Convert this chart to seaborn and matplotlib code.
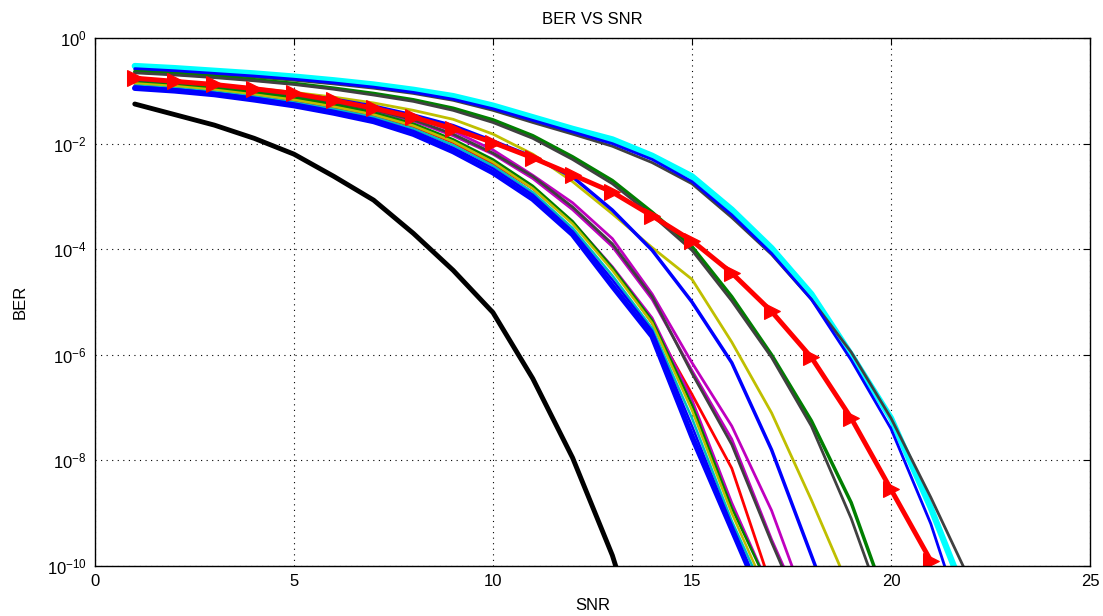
import numpy as np
import matplotlib
matplotlib.use("Agg")
import matplotlib.pyplot as plt
import seaborn as sns

# ==================================================
# DATA  (log10 of BER, SNR = 1, 2, 3, ...)
# ==================================================

snr = np.arange(1, 23)

ber_cyan_thick = [-0.53, -0.57, -0.62, -0.67, -0.73, -0.80, -0.88, -0.98, -1.10, -1.28, -1.50,
                  -1.72, -1.92, -2.23, -2.62, -3.25, -3.98, -4.85, -6.00, -7.20, -8.90, -10.8]
ber_gray_a = [-0.60, -0.64, -0.69, -0.74, -0.80, -0.87, -0.95, -1.05, -1.18, -1.37, -1.60,
              -1.82, -2.05, -2.36, -2.76, -3.40, -4.10, -4.95, -5.95, -7.20, -8.70, -10.3]
ber_blue_a = [-0.58, -0.62, -0.67, -0.72, -0.78, -0.85, -0.93, -1.03, -1.16, -1.34, -1.56,
              -1.78, -2.00, -2.30, -2.72, -3.35, -4.08, -4.95, -6.10, -7.40, -9.20, -11.5]
ber_green = [-0.64, -0.68, -0.73, -0.79, -0.86, -0.95, -1.05, -1.17, -1.33, -1.55, -1.85,
             -2.25, -2.70, -3.30, -3.95, -4.90, -6.00, -7.25, -8.80, -10.9]
ber_gray_b = [-0.66, -0.70, -0.75, -0.81, -0.88, -0.97, -1.08, -1.20, -1.37, -1.60, -1.90,
              -2.30, -2.76, -3.36, -4.02, -4.98, -6.05, -7.35, -9.10, -11.2]
ber_yellow_b = [-0.78, -0.83, -0.88, -0.95, -1.03, -1.12, -1.23, -1.37, -1.54, -1.82, -2.20,
                -2.72, -3.33, -3.97, -4.57, -5.76, -7.10, -8.75, -10.5]
ber_blue_b = [-0.79, -0.84, -0.90, -0.97, -1.06, -1.16, -1.29, -1.46, -1.66, -1.95, -2.25,
              -2.63, -3.26, -4.02, -5.00, -6.15, -7.80, -9.80, -11.8]
ber_magenta_a = [-0.80, -0.85, -0.91, -0.99, -1.08, -1.19, -1.32, -1.50, -1.76, -2.12, -2.60,
                 -3.12, -3.80, -4.85, -6.15, -7.35, -8.95, -11.0]
ber_magenta_b = [-0.83, -0.88, -0.94, -1.02, -1.12, -1.24, -1.38, -1.57, -1.85, -2.20, -2.66,
                 -3.25, -3.95, -4.95, -6.30, -7.60, -9.50, -11.2]
ber_gray_c = [-0.82, -0.87, -0.93, -1.01, -1.10, -1.22, -1.36, -1.55, -1.82, -2.18, -2.62,
              -3.20, -3.90, -4.90, -6.35, -7.70, -9.55, -11.3]
ber_red_thin = [-0.90, -0.95, -1.01, -1.09, -1.20, -1.32, -1.47, -1.68, -1.98, -2.38, -2.85,
                -3.50, -4.35, -5.40, -6.75, -8.15, -10.4]
ber_magenta_c = [-0.85, -0.90, -0.96, -1.05, -1.15, -1.28, -1.43, -1.64, -1.94, -2.32, -2.82,
                 -3.48, -4.33, -5.30, -6.85, -8.80, -10.5]
ber_green_c = [-0.84, -0.89, -0.95, -1.03, -1.13, -1.26, -1.41, -1.62, -1.92, -2.30, -2.80,
               -3.47, -4.35, -5.35, -6.95, -8.90, -10.5]
ber_yellow_c = [-0.86, -0.91, -0.98, -1.07, -1.17, -1.30, -1.45, -1.66, -1.96, -2.35, -2.85,
                -3.52, -4.40, -5.40, -7.05, -9.00, -10.7]
ber_cyan_thin = [-0.90, -0.95, -1.02, -1.11, -1.22, -1.35, -1.50, -1.72, -2.03, -2.42, -2.92,
                 -3.60, -4.50, -5.50, -7.20, -9.15, -10.8]
ber_blue_c = [-0.92, -0.97, -1.04, -1.13, -1.24, -1.38, -1.53, -1.76, -2.08, -2.47, -2.97,
              -3.66, -4.58, -5.55, -7.35, -9.25, -11.0]
ber_blue_thick = [-0.95, -1.00, -1.07, -1.17, -1.28, -1.42, -1.58, -1.82, -2.15, -2.55, -3.05,
                  -3.72, -4.70, -5.65, -7.55, -9.30, -11.05]
ber_black = [-1.25, -1.45, -1.65, -1.90, -2.20, -2.62, -3.07, -3.70, -4.40, -5.20, -6.45,
             -7.95, -9.80, -12.2]
ber_red_marker = [-0.76, -0.82, -0.88, -0.96, -1.05, -1.18, -1.33, -1.50, -1.72, -1.98, -2.27,
                  -2.59, -2.92, -3.37, -3.84, -4.45, -5.18, -6.05, -7.20, -8.55, -9.90]

y_ticks = [1e0, 1e-2, 1e-4, 1e-6, 1e-8, 1e-10]
y_tick_labels = ["$10^{0}$", "$10^{-2}$", "$10^{-4}$", "$10^{-6}$", "$10^{-8}$", "$10^{-10}$"]
x_ticks = [0, 5, 10, 15, 20, 25]

# ==================================================
# STYLE
# ==================================================

sns.set_style("white")
plt.rcParams["font.family"] = ["Liberation Sans", "DejaVu Sans"]
plt.rcParams["mathtext.default"] = "regular"
plt.rcParams["text.color"] = "black"
plt.rcParams["axes.labelcolor"] = "black"

# (values, colour, line width) in drawing order
curves = [
    (ber_cyan_thick, "#00ffff", 4.5),
    (ber_gray_a, "#404040", 2.0),
    (ber_blue_a, "#0000ff", 2.0),
    (ber_green, "#007f00", 2.5),
    (ber_gray_b, "#404040", 2.0),
    (ber_yellow_b, "#bfbf00", 2.0),
    (ber_blue_b, "#0000ff", 2.5),
    (ber_magenta_a, "#bf00bf", 2.0),
    (ber_magenta_b, "#bf00bf", 2.0),
    (ber_gray_c, "#404040", 2.0),
    (ber_red_thin, "#ff0000", 2.0),
    (ber_magenta_c, "#bf00bf", 1.8),
    (ber_green_c, "#007f00", 1.8),
    (ber_yellow_c, "#bfbf00", 1.8),
    (ber_cyan_thin, "#00bfbf", 1.8),
    (ber_blue_c, "#0000ff", 1.8),
    (ber_blue_thick, "#0000ff", 4.0),
    (ber_black, "#000000", 3.5),
]

# ==================================================
# PLOT
# ==================================================

fig = plt.figure(figsize=(11.03, 6.16), dpi=100)
ax = fig.add_axes([0.0861, 0.0812, 0.9021, 0.8571])

for values, color, lw in curves:
    v = np.array(values)
    sns.lineplot(
        x=snr[:len(v)],
        y=10.0 ** v,
        color=color,
        lw=lw,
        estimator=None,
        sort=False,
        ax=ax
    )

v = np.array(ber_red_marker)
sns.lineplot(
    x=snr[:len(v)],
    y=10.0 ** v,
    color="#ff0000",
    lw=3.5,
    marker=">",
    markersize=11,
    markeredgecolor="#ff0000",
    estimator=None,
    sort=False,
    ax=ax
)

ax.set_yscale("log")
ax.set_xlim(0, 25)
ax.set_ylim(1e-10, 1e0)

ax.set_xticks(x_ticks)
ax.set_xticklabels([str(t) for t in x_ticks])
ax.set_yticks(y_ticks)
ax.set_yticklabels(y_tick_labels)
ax.yaxis.set_minor_locator(matplotlib.ticker.NullLocator())
ax.xaxis.set_minor_locator(matplotlib.ticker.NullLocator())

ax.tick_params(direction="in", length=5, width=0.8, top=True, right=True,
               labelsize=12, colors="black", pad=6)

ax.grid(True, which="major", color="black", linestyle=(0, (1, 4)), lw=0.8)

for side in ax.spines.values():
    side.set_color("black")
    side.set_linewidth(1.0)

ax.set_title("BER VS SNR", fontsize=12, pad=10, color="black")
ax.set_xlabel("SNR", fontsize=12, labelpad=6, color="black")
ax.set_ylabel("BER", fontsize=12, labelpad=14, color="black")

fig.savefig("out.png", dpi=100)
